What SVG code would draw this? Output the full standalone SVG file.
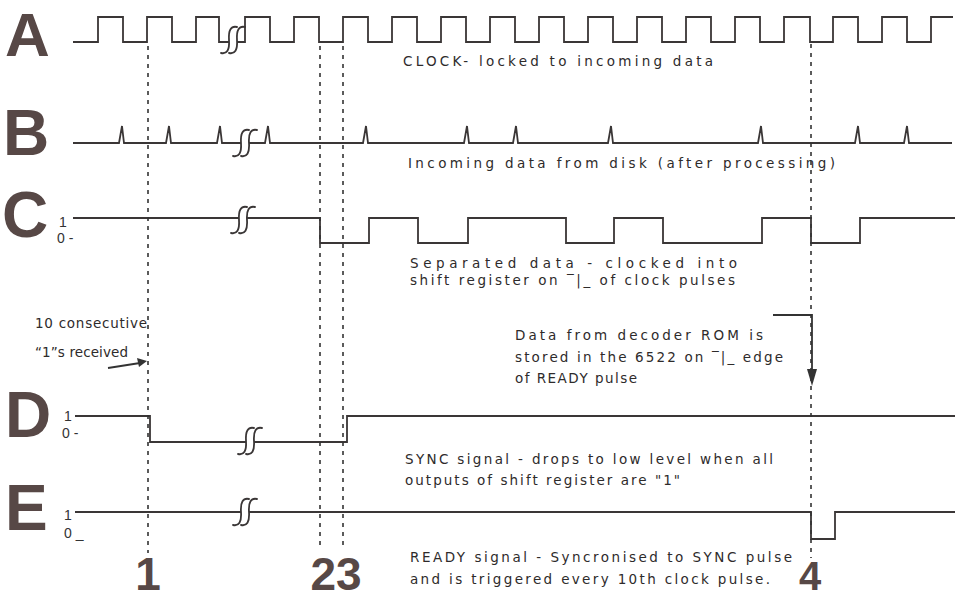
<svg xmlns="http://www.w3.org/2000/svg" xmlns:xlink="http://www.w3.org/1999/xlink" width="963" height="600" viewBox="0 0 963 600">
<style>
.sig{fill:none;stroke:#3a3636;stroke-width:1.8;stroke-linejoin:miter}
.brk{fill:none;stroke:#3a3636;stroke-width:1.8;stroke-linecap:round}
.dash{fill:none;stroke:#333;stroke-width:1.6;stroke-dasharray:4 5}
.big{font-family:"Liberation Sans",Arial,sans-serif;font-weight:bold;font-size:64px;fill:#574846}
.num{font-family:"Liberation Sans",Arial,sans-serif;font-weight:bold;fill:#574846;text-anchor:middle}
.lvl{font-family:"Liberation Sans",Arial,sans-serif;font-size:14px;fill:#333}
.hw{font-family:"DejaVu Sans",sans-serif;font-size:13.5px;fill:#2e2b2b}
.ann{fill:none;stroke:#333;stroke-width:1.8}
</style>
<defs>
<g id="squig">
<path class="brk" d="M-12,13 Q-3,15 -4,0 Q-5,-15 4,-13"/>
<path class="brk" d="M-4,13 Q5,15 4,0 Q3,-15 12,-13"/>
</g>
</defs>
<rect width="963" height="600" fill="#fff"/>

<g id="signal-A">
<text class="big" x="5" y="56" font-size="62" style="font-size:62px">A</text>
<path class="sig" d="M73,42 H98 V17 H123 V42 H147 V17 H172 V42 H196 V17 H219 V42 H229"/>
<path class="sig" d="M237,42 H245 V17 H270 V42 H294 V17 H319 V42 H343 V17 H368 V42 H392 V17 H417 V42 H441 V17 H466 V42 H490 V17 H515 V42 H539 V17 H564 V42 H588 V17 H613 V42 H637 V17 H662 V42 H686 V17 H711 V42 H735 V17 H760 V42 H784 V17 H810 V42 H833 V17 H858 V42 H882 V17 H907 V42 H931 V17 H953"/>
<use xlink:href="#squig" x="233" y="40"/>
<text class="hw" x="403" y="66" textLength="310" lengthAdjust="spacing">CLOCK- locked to incoming data</text>
</g>

<g id="signal-B">
<text class="big" x="3" y="155">B</text>
<path class="sig" d="M73,143 H119 L122,126 L124,143 H166 L169,126 L171,143 H217 L220,126 L222,143 H241"/>
<path class="sig" d="M249,143 H265 L268,126 L270,143 H363 L366,126 L368,143 H464 L467,126 L469,143 H513 L516,126 L518,143 H608 L611,126 L613,143 H758 L761,126 L763,143 H855 L858,126 L860,143 H904 L907,126 L909,143 H952"/>
<use xlink:href="#squig" x="245" y="143"/>
<text class="hw" x="408" y="168" textLength="427" lengthAdjust="spacing">Incoming data from disk (after processing)</text>
</g>

<g id="signal-C">
<text class="big" x="2" y="237">C</text>
<text class="lvl" x="59" y="227">1</text>
<text class="lvl" x="57" y="243">0 -</text>
<path class="sig" d="M73,218 H239"/>
<path class="sig" d="M247,218 H320 V243 H369 V218 H418 V243 H468 V218 H566 V243 H614 V218 H663 V243 H762 V218 H811 V243 H860 V218 H955"/>
<use xlink:href="#squig" x="243" y="220"/>
<text class="hw" x="410" y="268" textLength="327" lengthAdjust="spacing">Separated data - clocked into</text>
<text class="hw" x="410" y="285" textLength="325" lengthAdjust="spacing">shift register on ‾|_ of clock pulses</text>
</g>

<g id="signal-D">
<text class="big" x="5" y="437">D</text>
<text class="lvl" x="64" y="421">1</text>
<text class="lvl" x="62" y="438">0 -</text>
<path class="sig" d="M75,416 H150 V442 H246"/>
<path class="sig" d="M254,442 H347 V416 H955"/>
<use xlink:href="#squig" x="250" y="441"/>
<text class="hw" x="405" y="464" textLength="368" lengthAdjust="spacing">SYNC signal - drops to low level when all</text>
<text class="hw" x="405" y="485" textLength="275" lengthAdjust="spacing">outputs of shift register are "1"</text>
</g>

<g id="signal-E">
<text class="big" x="5" y="530">E</text>
<text class="lvl" x="64" y="520">1</text>
<text class="lvl" x="64" y="538">0 _</text>
<path class="sig" d="M75,512 H241"/>
<path class="sig" d="M249,512 H811 V539 H835 V512 H955"/>
<use xlink:href="#squig" x="245" y="512"/>
<text class="hw" x="410" y="562" textLength="382" lengthAdjust="spacing">READY signal - Syncronised to SYNC pulse</text>
<text class="hw" x="410" y="584" textLength="360" lengthAdjust="spacing">and is triggered every 10th clock pulse.</text>
</g>

<g id="note-10-ones">
<text class="hw" x="35" y="328" textLength="112" lengthAdjust="spacing">10 consecutive</text>
<text class="hw" x="35" y="357" textLength="93" lengthAdjust="spacing">“1”s received</text>
</g>

<g id="note-rom">
<text class="hw" x="515" y="340" textLength="248" lengthAdjust="spacing">Data from decoder ROM is</text>
<text class="hw" x="515" y="362" textLength="268" lengthAdjust="spacing">stored in the 6522 on ‾|_ edge</text>
<text class="hw" x="515" y="383" textLength="122" lengthAdjust="spacing">of READY pulse</text>
</g>

<g id="markers">
<text class="num" x="148" y="590" font-size="46">1</text>
<text class="num" x="336" y="590" font-size="46">23</text>
<text class="num" x="810" y="590" font-size="40">4</text>
</g>

<g id="connectors">
<line class="dash" x1="148" y1="46" x2="148" y2="553"/>
<line class="dash" x1="320" y1="46" x2="320" y2="550"/>
<line class="dash" x1="343" y1="46" x2="343" y2="550"/>
<line class="dash" x1="811" y1="44" x2="811" y2="558"/>
<path class="ann" d="M108,368 L140,363"/>
<polygon points="147,361 137,358 139,367" fill="#333"/>
<path class="ann" d="M773,315 H812 V372"/>
<polygon points="807,369 817,369 812,386" fill="#333"/>
</g>
</svg>
